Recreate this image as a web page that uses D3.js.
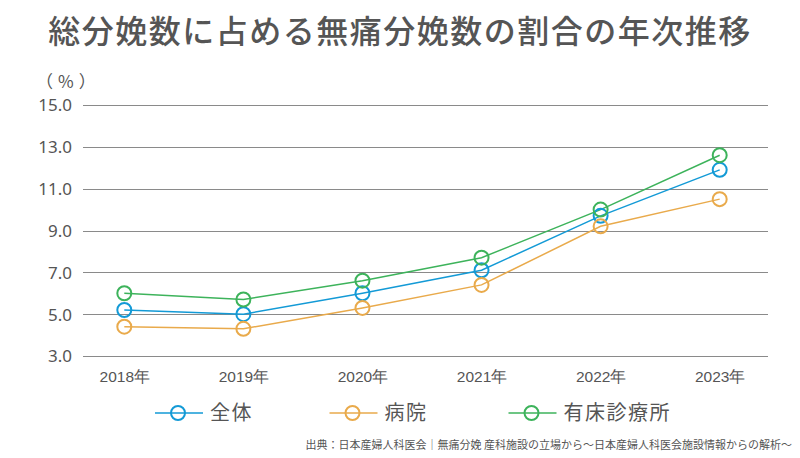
<!DOCTYPE html>
<html><head><meta charset="utf-8">
<script src="https://cdn.jsdelivr.net/npm/d3@7/dist/d3.min.js"></script>
<style>
body{margin:0;background:#fff;}
svg{display:block;font-family:"Noto Sans CJK JP","Noto Sans",sans-serif;}
</style></head>
<body><svg id="c" width="800" height="458"></svg>
<script>
const years = ["2018年","2019年","2020年","2021年","2022年","2023年"];
const total = [5.2, 5.0, 6.0, 7.1, 9.7, 11.9];
const hospital = [4.4, 4.3, 5.3, 6.4, 9.2, 10.5];
const clinic = [6.0, 5.7, 6.6, 7.7, 10.0, 12.6];
const seriesNames = ["全体","病院","有床診療所"];
const seriesColors = ["#139ad6","#e9aa4b","#3db35b"];
const yTicks = [3,5,7,9,11,13,15];

const series = [total, hospital, clinic];
const svg = d3.select("#c");
const textColor = "#555";

const x = d3.scalePoint().domain(years).range([124.3, 719.7]);
const y = d3.scaleLinear().domain([3,15]).range([356,105]);

// title
svg.append("text").attr("x",400).attr("y",43).attr("text-anchor","middle")
  .attr("font-size",32).attr("font-weight",500).attr("letter-spacing",1.5)
  .attr("fill",textColor).text("総分娩数に占める無痛分娩数の割合の年次推移");

// gridlines
const yAxis = d3.axisLeft(y).tickValues(yTicks).tickFormat(d3.format(".1f")).tickSize(0).tickPadding(0);
const gy = svg.append("g").attr("transform","translate(72,0)").call(yAxis);
gy.select(".domain").remove();
gy.selectAll("text").attr("font-size",17).attr("fill",textColor).attr("font-family","'Noto Sans',sans-serif").attr("dy","0.35em");
svg.append("g").selectAll("line").data(yTicks).join("line")
  .attr("x1",83).attr("x2",768)
  .attr("y1",d=>Math.round(y(d))+0.5).attr("y2",d=>Math.round(y(d))+0.5)
  .attr("stroke","#8a8a8a").attr("stroke-width",1);

svg.append("text").attr("x",36).attr("y",82).attr("text-anchor","start").attr("dy","0.35em")
  .attr("font-size",17).attr("letter-spacing",5).attr("fill",textColor).text("（%）");

// x axis labels
const xAxis = d3.axisBottom(x).tickSize(0).tickPadding(0);
const gx = svg.append("g").attr("transform","translate(0,370)").call(xAxis);
gx.select(".domain").remove();
gx.selectAll("text").attr("font-size",15.5).attr("fill",textColor).attr("dy","0.8em");

// lines & markers
const line = d3.line().x((d,i)=>x(years[i])).y(d=>y(d));
series.forEach((s,k)=>{
  svg.append("path").datum(s).attr("d",line).attr("fill","none")
    .attr("stroke",seriesColors[k]).attr("stroke-width",1.5);
});
series.forEach((s,k)=>{
  svg.append("g").selectAll("circle").data(s).join("circle")
    .attr("cx",(d,i)=>x(years[i])).attr("cy",d=>y(d)).attr("r",7)
    .attr("fill","none").attr("stroke",seriesColors[k]).attr("stroke-width",2);
});

// legend
const legX = [155, 329.5, 508.5];
seriesNames.forEach((n,k)=>{
  const g = svg.append("g").attr("transform",`translate(${legX[k]},413)`);
  g.append("line").attr("x1",0).attr("x2",48).attr("stroke",seriesColors[k]).attr("stroke-width",1.5);
  g.append("circle").attr("cx",23).attr("r",7).attr("fill","none").attr("stroke",seriesColors[k]).attr("stroke-width",2);
  g.append("text").attr("x",55).attr("dy","0.36em").attr("font-size",20).attr("letter-spacing",1.5)
    .attr("fill",textColor).text(n);
});

// source
svg.append("text").attr("x",792).attr("y",445).attr("dy","0.35em").attr("text-anchor","end")
  .attr("font-size",11).attr("fill",textColor)
  .text("出典：日本産婦人科医会｜無痛分娩 産科施設の立場から～日本産婦人科医会施設情報からの解析～");
</script></body></html>
